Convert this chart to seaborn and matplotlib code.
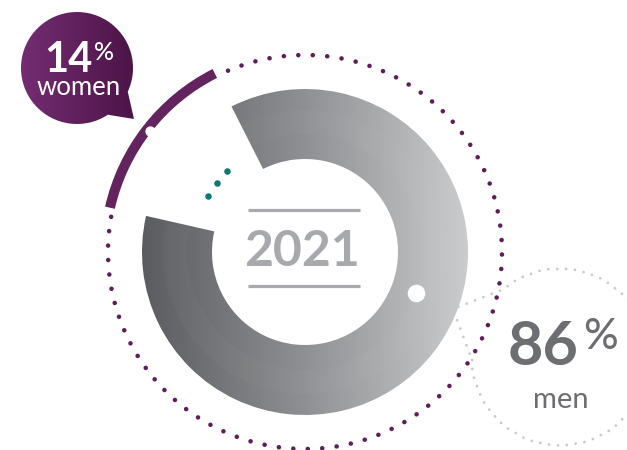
import numpy as np
import matplotlib
matplotlib.use("Agg")
import matplotlib.pyplot as plt
import seaborn as sns
from matplotlib.colors import LinearSegmentedColormap
from matplotlib.path import Path
from matplotlib.patches import PathPatch

# ---- data ----
categories = ["women", "men"]
shares = [14, 86]
year_label = "2021"

sns.set_theme(style="white")
plt.rcParams["font.family"] = ["Lato", "DejaVu Sans"]

W, H = 627, 450
fig = plt.figure(figsize=(W / 100, H / 100), dpi=100)
ax = fig.add_axes([0, 0, 1, 1])

cx, cy = 305, 198          # donut centre (y up)
start = 142 - shares[0] * 3.6 / 2   # women slice centred at 142 deg

# ---- gray donut (men) with horizontal gradient ----
ring, _ = ax.pie(shares, radius=163, center=(cx, cy), startangle=start,
                 counterclock=True, colors=["none", "none"],
                 wedgeprops=dict(width=70, linewidth=0))
ring[0].set_visible(False)
gray_cmap = LinearSegmentedColormap.from_list("g", ["#5b5c5f", "#8f9093", "#cbcccd"])
grad = np.linspace(0, 1, 256).reshape(1, -1)
im = ax.imshow(grad, cmap=gray_cmap, extent=(cx - 163, cx + 163, cy - 163, cy + 163),
               aspect="auto", zorder=1, interpolation="bilinear")
im.set_clip_path(ring[1])

# faint concentric band
band, _ = ax.pie(shares, radius=142, center=(cx, cy), startangle=start,
                 counterclock=True, colors=["none", "white"],
                 wedgeprops=dict(width=24, linewidth=0, alpha=0.025))
band[0].set_visible(False)
for w in band:
    w.set_zorder(2)

# ---- purple arc (women) on outer ring ----
arc, _ = ax.pie(shares, radius=205, center=(cx, cy), startangle=start,
                counterclock=True, colors=["#63235f", "none"],
                wedgeprops=dict(width=10, linewidth=0))
arc[1].set_visible(False)
for w in arc:
    w.set_zorder(3)

# dotted outer circle over the men part
a0 = np.deg2rad(start + shares[0] * 3.6 + 2.5)
a1 = np.deg2rad(start + 360 - 2.5)
t = np.linspace(a0, a1, 600)
ax.plot(cx + 197 * np.cos(t), cy + 197 * np.sin(t), color="#5e1d5b",
        lw=3.3, ls=(0, (0.01, 3.15)), dash_capstyle="round", zorder=3)

# white dot on purple arc, white dot on gray ring
ax.scatter([150], [319], s=55, color="white", zorder=4, linewidths=0)
ax.scatter([416], [157], s=160, color="white", zorder=4, linewidths=0)

# teal dots in the gap
ta = np.deg2rad([134, 142, 150])
ax.scatter(cx + 112 * np.cos(ta), cy + 112 * np.sin(ta), s=22,
           color="#0e7874", zorder=4, linewidths=0)

# ---- year label with rules ----
ax.text(302, 184, year_label, ha="center", va="baseline", fontsize=36,
        fontweight="bold", color="#a7a9ac", zorder=5)
for yy in (240, 164):
    ax.plot([248, 360], [yy, yy], color="#a7a9ac", lw=2.3, solid_capstyle="butt", zorder=5)

# ---- women speech bubble ----
bx, by, br = 77, 382, 56
th1, th2 = -25, 303.4
arcp = Path.arc(th1, th2)
verts = arcp.vertices * br + np.array([bx, by])
verts = np.vstack([verts, [[134, 331]], [verts[0]]])
codes = list(arcp.codes) + [Path.LINETO, Path.CLOSEPOLY]
bubble = PathPatch(Path(verts, codes), facecolor="none", edgecolor="none", zorder=5)
ax.add_patch(bubble)
pur_cmap = LinearSegmentedColormap.from_list("p", ["#742c72", "#4c1447"])
im2 = ax.imshow(grad, cmap=pur_cmap, extent=(bx - br, 136, by - br - 5, by + br),
                aspect="auto", zorder=5, interpolation="bilinear")
im2.set_clip_path(bubble)
ax.text(93, 378, f"{shares[0]}", ha="right", va="baseline", fontsize=30,
        fontweight="bold", color="white", zorder=6)
ax.text(94, 409, "%", ha="left", va="top", fontsize=18, fontweight="medium",
        color="white", zorder=6)
ax.text(79, 355, categories[0], ha="center", va="baseline", fontsize=18.5,
        color="white", zorder=6)

# ---- men speech bubble (dotted outline) ----
mx, my, mr = 560, 93, 88
arcm = Path.arc(182, 489.4)
mv = arcm.vertices * mr + np.array([mx, my])
tip = np.array([453, 141])
line_pts = np.vstack([mv, np.linspace(mv[-1], tip, 20), np.linspace(tip, mv[0], 20)])
ax.plot(line_pts[:, 0], line_pts[:, 1], color="#c9c9c9", lw=2.0,
        ls=(0, (0.01, 3.2)), dash_capstyle="round", zorder=2)
ax.text(579, 85, f"{shares[1]}", ha="right", va="baseline", fontsize=44,
        fontweight="bold", color="#6d6e71", zorder=6)
ax.text(583, 132, "%", ha="left", va="top", fontsize=31, fontweight="medium",
        color="#6d6e71", zorder=6)
ax.text(561, 42, categories[1], ha="center", va="baseline", fontsize=21,
        color="#6d6e71", zorder=6)

ax.set_xlim(0, W)
ax.set_ylim(0, H)
ax.set_aspect("equal")
ax.axis("off")
fig.savefig("out.png", dpi=100, facecolor="white")
